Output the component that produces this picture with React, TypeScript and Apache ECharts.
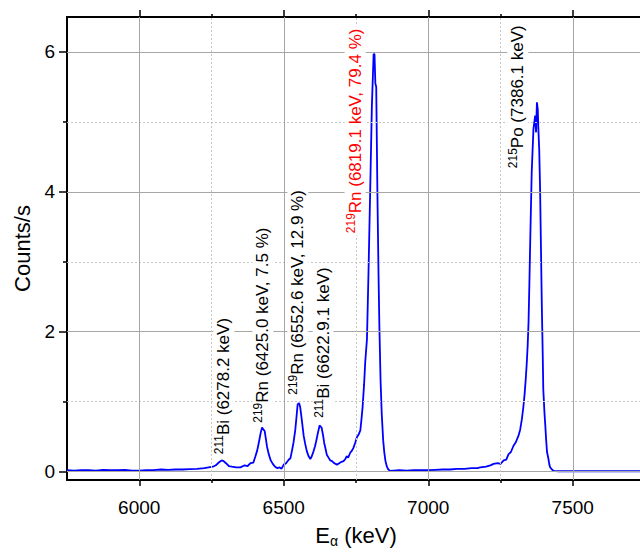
import React, { useEffect, useRef } from 'react';
import * as echarts from 'echarts';

// Spectrum: alpha energy (keV) and count rate (counts/s)
const energies = [
  5750, 5775, 5800, 5825, 5850, 5875, 5900, 5925, 5950, 5975,
  6000, 6025, 6050, 6075, 6100, 6125, 6150, 6175, 6200, 6225,
  6240, 6255, 6265, 6275, 6285, 6292, 6300, 6310, 6320, 6335,
  6350, 6365, 6375, 6385, 6395, 6402, 6408, 6414, 6420, 6425,
  6430, 6434, 6438, 6442, 6448, 6455, 6462, 6470, 6478, 6486,
  6492, 6500, 6508, 6517, 6523, 6528, 6534, 6540, 6545, 6548,
  6553, 6557, 6561, 6565, 6569, 6574, 6580, 6586, 6592, 6597,
  6603, 6608, 6612, 6618, 6624, 6628, 6631, 6636, 6640, 6645,
  6649, 6655, 6661, 6667, 6675, 6684, 6692, 6700, 6707, 6713,
  6718, 6723, 6730, 6736, 6741, 6747, 6753, 6759, 6765, 6769,
  6773, 6778, 6782, 6788, 6793, 6799, 6805, 6811, 6814, 6817,
  6820, 6824, 6828, 6831, 6835, 6839, 6844, 6848, 6852, 6857,
  6862, 6868, 6880, 6900, 6925, 6950, 6975, 7000, 7025, 7050,
  7075, 7100, 7125, 7150, 7170, 7180, 7200, 7215, 7226, 7240,
  7250, 7261, 7270, 7278, 7286, 7295, 7303, 7312, 7318, 7324,
  7329, 7333, 7337, 7341, 7344, 7347, 7350, 7353, 7358, 7364,
  7370, 7373, 7376, 7379, 7381, 7384, 7387, 7390, 7393, 7396,
  7398, 7402, 7405, 7408, 7411, 7416, 7419, 7422, 7428, 7434,
  7450, 7500, 7550, 7600, 7650, 7700, 7750,
];
const counts = [
  0.02, 0.015, 0.02, 0.02, 0.015, 0.025, 0.02, 0.02, 0.025, 0.015,
  0.015, 0.02, 0.02, 0.03, 0.025, 0.03, 0.03, 0.035, 0.04, 0.05,
  0.06, 0.07, 0.09, 0.13, 0.16, 0.15, 0.12, 0.08, 0.07, 0.06,
  0.06, 0.09, 0.08, 0.12, 0.13, 0.22, 0.30, 0.42, 0.55, 0.63,
  0.60, 0.58, 0.47, 0.36, 0.25, 0.16, 0.11, 0.07, 0.05, 0.06,
  0.04, 0.10, 0.12, 0.17, 0.19, 0.29, 0.42, 0.60, 0.82, 0.96,
  0.98, 0.92, 0.79, 0.65, 0.51, 0.40, 0.29, 0.22, 0.18, 0.22,
  0.29, 0.36, 0.43, 0.55, 0.66, 0.64, 0.63, 0.52, 0.41, 0.32,
  0.24, 0.20, 0.16, 0.15, 0.12, 0.10, 0.12, 0.14, 0.15, 0.18,
  0.22, 0.20, 0.27, 0.30, 0.34, 0.41, 0.49, 0.53, 0.59, 0.75,
  0.93, 1.25, 1.57, 1.90, 2.80, 4.00, 5.24, 5.97, 5.97, 5.55,
  5.50, 4.00, 2.80, 2.06, 1.30, 0.83, 0.45, 0.27, 0.15, 0.07,
  0.03, 0.01, 0.015, 0.02, 0.015, 0.02, 0.02, 0.02, 0.025, 0.03,
  0.03, 0.04, 0.04, 0.05, 0.05, 0.06, 0.07, 0.09, 0.11, 0.12,
  0.11, 0.16, 0.17, 0.25, 0.28, 0.37, 0.42, 0.51, 0.60, 0.75,
  0.92, 1.09, 1.30, 1.56, 1.80, 2.13, 2.70, 3.32, 4.28, 4.90,
  5.09, 4.85, 5.28, 5.18, 4.90, 4.60, 4.04, 3.20, 2.37, 1.70,
  1.18, 0.85, 0.66, 0.45, 0.28, 0.18, 0.10, 0.06, 0.03, 0.01,
  0.005, 0.005, 0.005, 0.005, 0.005, 0.005, 0.005,
];

// Axis ticks
const xMajorTicks = [6000, 6500, 7000, 7500];
const xMinorTicks = [6250, 6750, 7250];
const yMajorTicks = [0, 2, 4, 6];
const yMinorTicks = [1, 3, 5];

// Peak annotations
const labelMass = ['211', '219', '219', '211', '219', '215'];
const labelNuclide = ['Bi', 'Rn', 'Rn', 'Bi', 'Rn', 'Po'];
const labelDetail = [
  '(6278.2 keV)',
  '(6425.0 keV, 7.5 %)',
  '(6552.6 keV, 12.9 %)',
  '(6622.9.1 keV)',
  '(6819.1 keV, 79.4 %)',
  '(7386.1 keV)',
];
const labelEnergy = [6293, 6428, 6549, 6636, 6747, 7310];
const labelCounts = [0.22, 0.67, 1.07, 0.74, 3.38, 4.31];
const labelHighlight = [false, false, false, false, true, false];

const FONT = '"Liberation Sans", Arial, Helvetica, sans-serif';

export default function App() {
  const ref = useRef<HTMLDivElement>(null);

  useEffect(() => {
    if (!ref.current) return;
    const chart = echarts.init(ref.current, null, { renderer: 'svg' });

    const xRange = { min: 5750, max: 7750 };
    const yRange = { min: -0.12, max: 6.5 };
    const axisLineStyle = { color: '#000', width: 2 };
    const tickLineStyle = { color: '#000', width: 1.5 };

    const solid = { type: 'solid', color: '#a6a6a6', width: 1 };
    const dotted = { type: [2, 2], color: '#c6c6c6', width: 1 };
    const gridLines: any[] = [
      ...yMajorTicks.map((v) => ({ yAxis: v, lineStyle: solid })),
      ...yMinorTicks.map((v) => ({ yAxis: v, lineStyle: dotted })),
      ...xMajorTicks.map((v) => ({ xAxis: v, lineStyle: solid })),
      ...xMinorTicks.map((v) => ({ xAxis: v, lineStyle: dotted })),
    ];

    const richFor = (color: string) => ({
      s: {
        fontSize: 12, fontFamily: FONT, color, verticalAlign: 'top', lineHeight: 13,
        textBorderWidth: 0, textBorderColor: 'transparent', opacity: 1,
      },
      m: {
        fontSize: 17, fontFamily: FONT, color, lineHeight: 21,
        textBorderWidth: 0, textBorderColor: 'transparent', opacity: 1,
      },
    });

    const labelData = labelEnergy.map((e, i) => ({
      value: [e, labelCounts[i]],
      label: {
        formatter: `{s|${labelMass[i]}}{m|${labelNuclide[i]} ${labelDetail[i]}}`,
        color: labelHighlight[i] ? '#ff0000' : '#000000',
        rich: richFor(labelHighlight[i] ? '#ff0000' : '#000000'),
      },
    }));

    const plain = (v: number) => String(v);

    const xBase = (extra: any) => ({
      type: 'value',
      ...xRange,
      splitLine: { show: false },
      ...extra,
    });
    const yBase = (extra: any) => ({
      type: 'value',
      ...yRange,
      splitLine: { show: false },
      ...extra,
    });

    chart.setOption({
      animation: false,
      backgroundColor: '#fff',
      textStyle: { fontFamily: FONT },
      grid: {
        left: 67, top: 17, width: 578, height: 463,
        containLabel: false, outerBoundsMode: 'none',
      },
      xAxis: [
        xBase({
          position: 'bottom',
          axisLine: { show: true, onZero: false, lineStyle: axisLineStyle },
          axisTick: { show: true, customValues: xMajorTicks, length: 6, lineStyle: tickLineStyle },
          axisLabel: {
            show: true, customValues: xMajorTicks, formatter: plain,
            fontSize: 19, color: '#000', fontFamily: FONT, margin: 18,
          },
          name: '{e|E}{sub|α}{e| (keV)}',
          nameLocation: 'middle',
          nameGap: 42,
          nameTextStyle: {
            rich: {
              e: { fontSize: 22, fontFamily: FONT, color: '#000', lineHeight: 26 },
              sub: { fontSize: 14, fontFamily: FONT, color: '#000', verticalAlign: 'bottom', lineHeight: 14 },
            },
          },
        }),
        xBase({
          position: 'bottom',
          axisLine: { show: false, onZero: false },
          axisTick: { show: true, customValues: xMinorTicks, length: 3, lineStyle: tickLineStyle },
          axisLabel: { show: false },
        }),
        xBase({
          position: 'top',
          axisLine: { show: true, onZero: false, lineStyle: axisLineStyle },
          axisTick: { show: true, customValues: xMajorTicks, length: 7, lineStyle: tickLineStyle },
          axisLabel: { show: false },
        }),
        xBase({
          position: 'top',
          axisLine: { show: false, onZero: false },
          axisTick: { show: true, customValues: xMinorTicks, length: 3, lineStyle: tickLineStyle },
          axisLabel: { show: false },
        }),
      ],
      yAxis: [
        yBase({
          position: 'left',
          axisLine: { show: true, onZero: false, lineStyle: axisLineStyle },
          axisTick: { show: true, customValues: yMajorTicks, length: 8, lineStyle: tickLineStyle },
          axisLabel: {
            show: true, customValues: yMajorTicks, formatter: plain,
            fontSize: 19, color: '#000', fontFamily: FONT, margin: 12,
          },
          name: 'Counts/s',
          nameLocation: 'middle',
          nameGap: 29,
          nameTextStyle: { fontSize: 22, color: '#000', fontFamily: FONT },
        }),
        yBase({
          position: 'left',
          axisLine: { show: false, onZero: false },
          axisTick: { show: true, customValues: yMinorTicks, length: 4, lineStyle: tickLineStyle },
          axisLabel: { show: false },
        }),
      ],
      series: [
        {
          type: 'line',
          name: 'grid',
          data: [],
          z: 1,
          silent: true,
          markLine: {
            silent: true,
            symbol: ['none', 'none'],
            label: { show: false },
            data: gridLines,
          },
        },
        {
          type: 'line',
          name: 'spectrum',
          z: 3,
          showSymbol: false,
          symbol: 'none',
          lineStyle: { color: '#0000ff', width: 1.8 },
          data: energies.map((e, i) => [e, counts[i]]),
        },
        {
          type: 'scatter',
          name: 'labels',
          z: 5,
          symbolSize: 1,
          itemStyle: { color: 'rgba(0,0,0,0)', opacity: 1 },
          label: {
            show: true,
            position: 'inside',
            rotate: 90,
            align: 'left',
            verticalAlign: 'middle',
            backgroundColor: '#ffffff',
            padding: [0, 2],
            textBorderWidth: 0,
            opacity: 1,
          },
          data: labelData,
        },
      ],
    });

    return () => chart.dispose();
  }, []);

  return (
    <div
      ref={ref}
      style={{ position: 'fixed', left: 0, top: 0, width: 640, height: 552, background: '#fff' }}
    />
  );
}
